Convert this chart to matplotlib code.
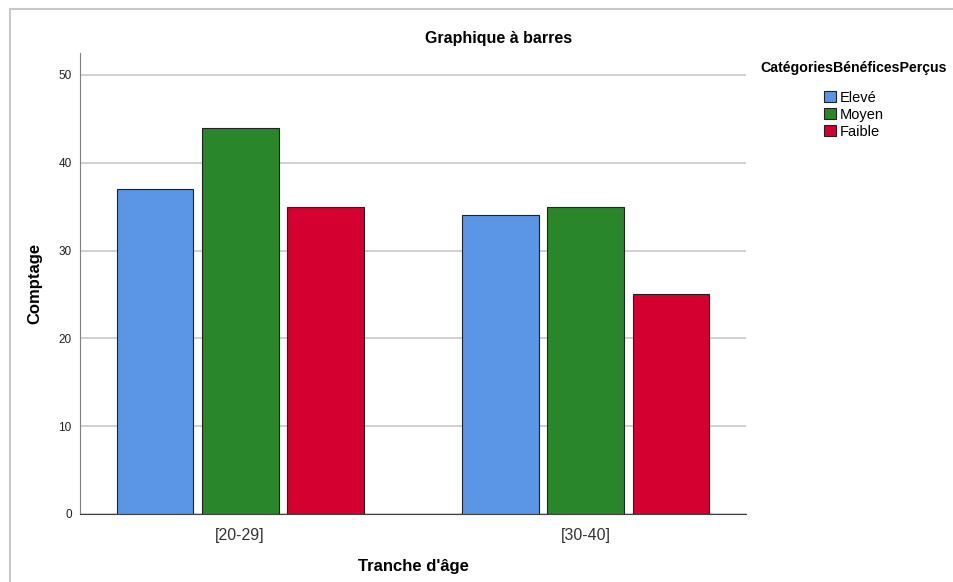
import numpy as np
import matplotlib.pyplot as plt
from matplotlib.patches import Rectangle

plt.rcParams['font.family'] = ['Liberation Sans', 'DejaVu Sans']

groups = ["[20-29]", "[30-40]"]
series = ["Elevé", "Moyen", "Faible"]
eleve = [37, 34]
moyen = [44, 35]
faible = [35, 25]
colors = ["#5a96e3", "#2a862a", "#d4002f"]

fig = plt.figure(figsize=(9.54, 5.82), dpi=100)
# outer frame like the SPSS viewer
fig.patches.append(Rectangle((10 / 954, -0.1), 1.1, 1 - 9 / 582 + 0.1, transform=fig.transFigure,
                             fill=False, edgecolor="#c8c8c8", linewidth=1.5))
ax = fig.add_axes([80 / 954, 1 - 514 / 582, (746 - 80) / 954, (514 - 53) / 582])

x = np.arange(len(groups))
w = 0.2225
step = 0.2457
for i, (name, vals) in enumerate(zip(series, [eleve, moyen, faible])):
    ax.bar(x + (i - 1) * step, vals, width=w, color=colors[i], edgecolor="#222222",
           linewidth=0.8, label=name, zorder=3)

ax.set_xlim(-0.4625, 1.4625)
ax.set_ylim(0, 52.5)
ax.set_yticks([0, 10, 20, 30, 40, 50])
ax.set_xticks(x)
ax.set_xticklabels(groups, fontsize=11.5, color="#333333")
ax.tick_params(axis="y", labelsize=8.5, length=0, pad=6, colors="#222222")
ax.tick_params(axis="x", length=0, pad=10)
ax.grid(axis="y", color="#c8c8c8", linewidth=1.2, zorder=0)
for s in ["top", "right"]:
    ax.spines[s].set_visible(False)
ax.spines["left"].set_color("#808080")
ax.spines["bottom"].set_color("#404040")

ax.set_ylabel("Comptage", fontsize=12, fontweight="bold")
ax.yaxis.set_label_coords(-0.057, 0.5)
ax.set_xlabel("Tranche d'âge", fontsize=12, fontweight="bold")
ax.xaxis.set_label_coords(0.5, -0.097)
fig.text(499 / 954, 1 - 38 / 582, "Graphique à barres", fontsize=11.5, fontweight="bold",
         ha="center", va="center")

fig.text(854 / 954, 1 - 68 / 582, "CatégoriesBénéficesPerçus", fontsize=10.2,
         fontweight="bold", ha="center", va="center")
leg = ax.legend(loc="upper center", bbox_to_anchor=(854 / 954, 1 - 79 / 582),
                bbox_transform=fig.transFigure, frameon=False, fontsize=10.5,
                handlelength=0.85, handleheight=0.85, handletextpad=0.25,
                labelspacing=0.2, borderpad=0.3)

fig.savefig("out.png", dpi=100)
